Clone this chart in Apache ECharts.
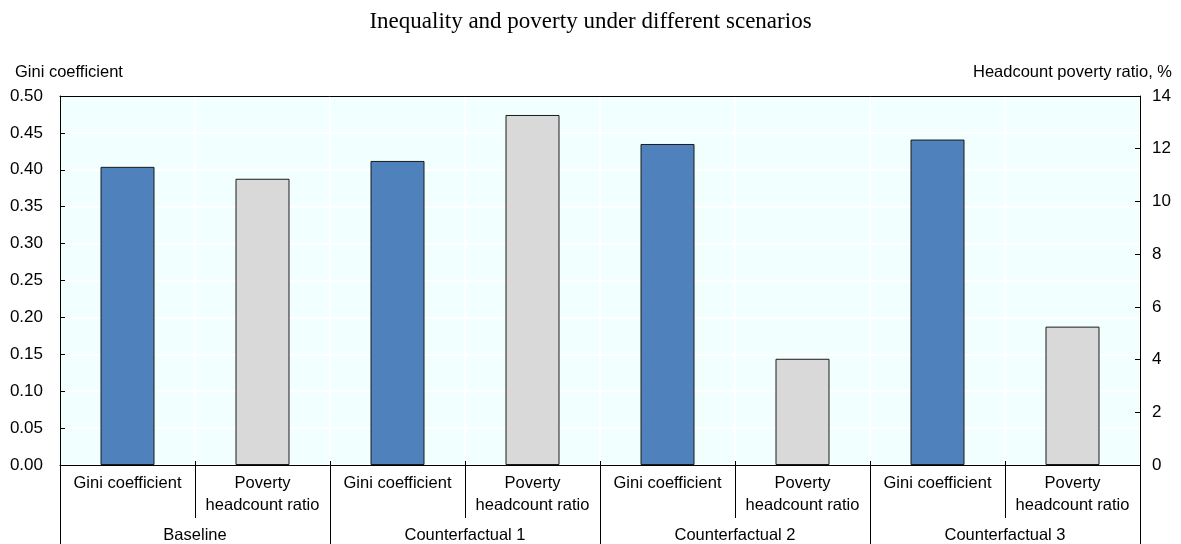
<!DOCTYPE html>
<html>
<head>
<meta charset="utf-8">
<script src="https://cdn.jsdelivr.net/npm/echarts@6/dist/echarts.min.js"></script>
<style>html,body{margin:0;padding:0;background:#fff;}#c{width:1181px;height:544px;}</style>
</head>
<body>
<div id="c"></div>
<script>
const titleText = 'Inequality and poverty under different scenarios';
const subCategories = ['Gini coefficient', 'Poverty\nheadcount ratio', 'Gini coefficient', 'Poverty\nheadcount ratio', 'Gini coefficient', 'Poverty\nheadcount ratio', 'Gini coefficient', 'Poverty\nheadcount ratio'];
const groups = ['Baseline', 'Counterfactual 1', 'Counterfactual 2', 'Counterfactual 3'];
const giniValues = [0.404, 0.412, 0.435, 0.441];
const povertyValues = [10.86, 13.28, 4.03, 5.25];
const leftAxisName = 'Gini coefficient';
const rightAxisName = 'Headcount poverty ratio, %';

const giniData = [], povData = [];
groups.forEach((g, i) => {
  giniData.push(giniValues[i], '-');
  povData.push('-', povertyValues[i]);
});

const font = 'Liberation Sans, Arial, sans-serif';
const fs = 16.5;
const tickFs = 17;
const chart = echarts.init(document.getElementById('c'), null, {renderer: 'canvas'});
chart.setOption({
  animation: false,
  title: {
    text: titleText, left: 'center', top: 5,
    textStyle: {fontFamily: 'Liberation Serif, Times New Roman, serif', fontSize: 23, fontWeight: 'normal', color: '#000'}
  },
  grid: {
    left: 60, right: 41, top: 96, bottom: 79,
    show: true, backgroundColor: '#F2FFFF', borderColor: '#000', borderWidth: 0
  },
  xAxis: [{
    type: 'category', data: subCategories, position: 'bottom',
    axisLine: {show: true, lineStyle: {color: '#000', width: 1}},
    axisTick: {show: true, alignWithLabel: false, interval: 0, length: 53, lineStyle: {color: '#000'}},
    axisLabel: {interval: 0, margin: 7, fontFamily: font, fontSize: fs, color: '#000', lineHeight: 22, verticalAlign: 'top'},
    splitLine: {show: true, interval: 0, lineStyle: {color: '#fff', width: 2}}
  }, {
    type: 'category', data: groups, position: 'bottom',
    axisLine: {show: false},
    axisTick: {show: true, interval: 0, length: 80, lineStyle: {color: '#000'}},
    axisLabel: {interval: 0, margin: 62, fontFamily: font, fontSize: fs, color: '#000', verticalAlign: 'top'},
    splitLine: {show: false}
  }, {
    type: 'category', data: subCategories, position: 'bottom',
    axisLine: {show: false},
    axisTick: {show: true, inside: true, interval: 0, length: 4, lineStyle: {color: '#000'}},
    axisLabel: {show: false},
    splitLine: {show: false}
  }, {
    type: 'category', data: groups, position: 'top',
    axisLine: {show: true, lineStyle: {color: '#000', width: 1}},
    axisTick: {show: false},
    axisLabel: {show: false},
    splitLine: {show: false}
  }],
  yAxis: [{
    type: 'value', min: 0, max: 0.5, interval: 0.05, position: 'left',
    name: leftAxisName, nameLocation: 'end', nameGap: 15,
    nameTextStyle: {fontFamily: font, fontSize: fs, color: '#000', align: 'left', padding: [0, 0, 0, -45]},
    axisLine: {show: true, lineStyle: {color: '#000'}},
    axisTick: {show: true, inside: true, length: 5, lineStyle: {color: '#000'}},
    axisLabel: {formatter: v => v.toFixed(2), fontFamily: font, fontSize: tickFs, color: '#000', margin: 17},
    splitLine: {show: true, lineStyle: {color: '#fff', width: 2}}
  }, {
    type: 'value', min: 0, max: 14, interval: 2, position: 'right',
    name: rightAxisName, nameLocation: 'end', nameGap: 15,
    nameTextStyle: {fontFamily: font, fontSize: fs, color: '#000', align: 'right', padding: [0, -32, 0, 0]},
    axisLine: {show: true, lineStyle: {color: '#000'}},
    axisTick: {show: true, inside: true, length: 5, lineStyle: {color: '#000'}},
    axisLabel: {fontFamily: font, fontSize: tickFs, color: '#000', margin: 12},
    splitLine: {show: false}
  }],
  series: [{
    name: 'Gini coefficient', type: 'bar', xAxisIndex: 0, yAxisIndex: 0,
    data: giniData, barWidth: '40%', barGap: '-100%',
    itemStyle: {color: '#4F81BD', borderColor: '#1a1a1a', borderWidth: 1}
  }, {
    name: 'Poverty headcount ratio', type: 'bar', xAxisIndex: 0, yAxisIndex: 1,
    data: povData, barWidth: '40%', barGap: '-100%',
    itemStyle: {color: '#D9D9D9', borderColor: '#1a1a1a', borderWidth: 1}
  }]
});
</script>
</body>
</html>
